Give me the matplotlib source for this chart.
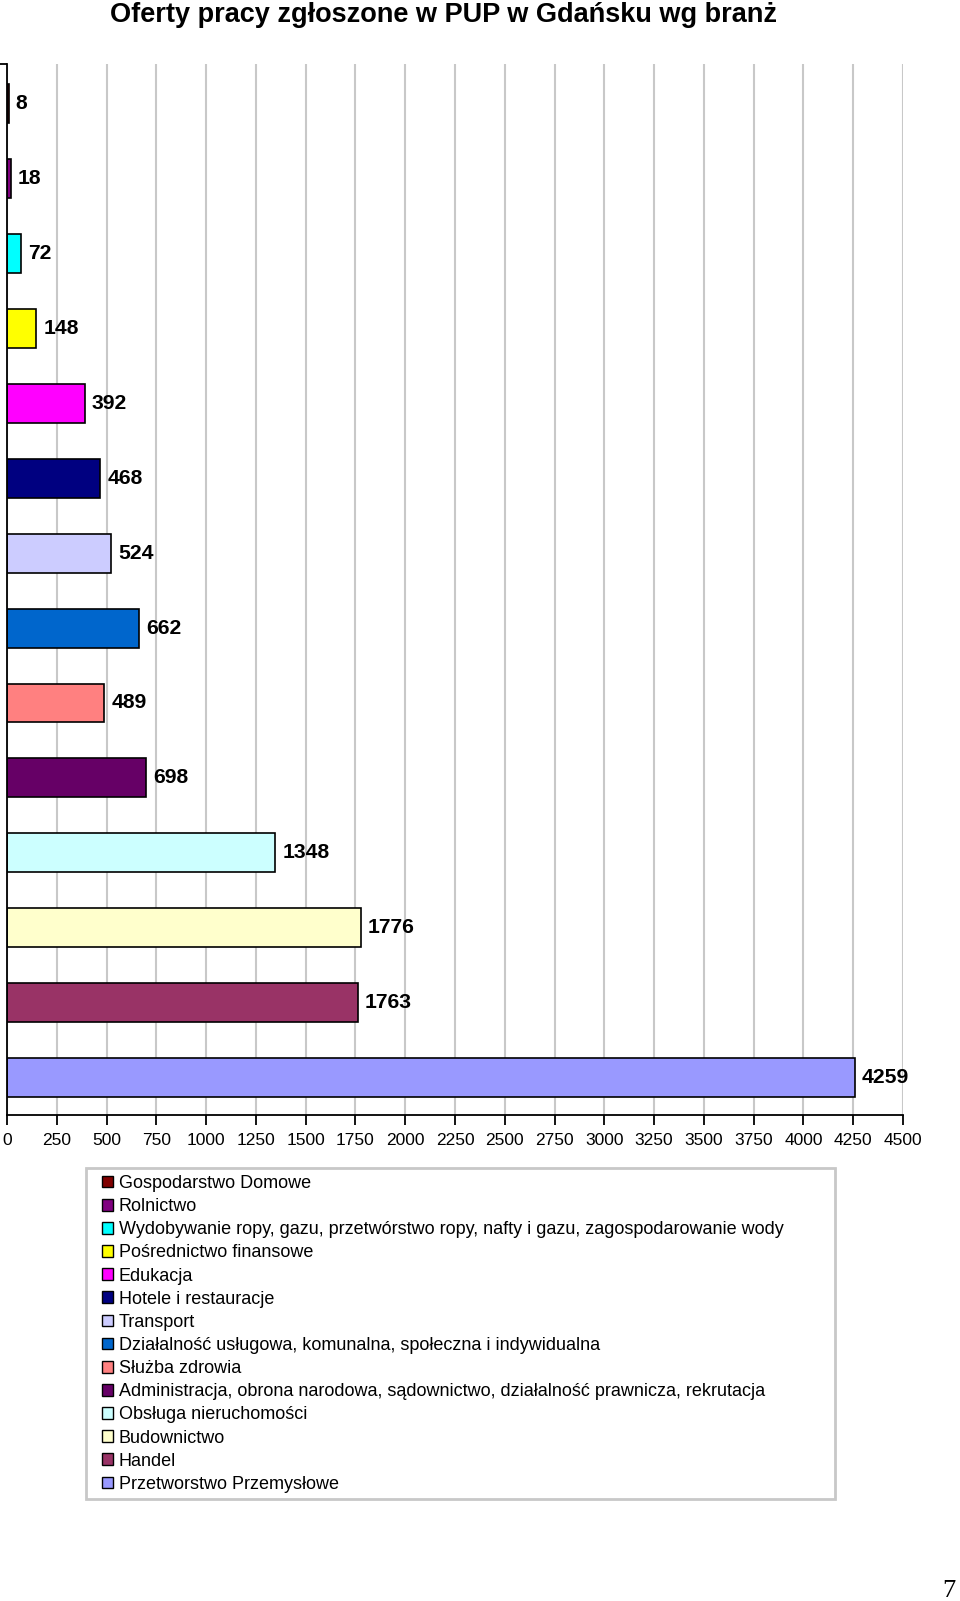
import matplotlib
matplotlib.use("Agg")
import matplotlib.pyplot as plt
from matplotlib.patches import Patch, Rectangle

plt.rcParams['font.family'] = ['Liberation Sans', 'DejaVu Sans']

title = "Oferty pracy zgłoszone w PUP w Gdańsku wg branż"
categories = [
    "Gospodarstwo Domowe",
    "Rolnictwo",
    "Wydobywanie ropy, gazu, przetwórstwo ropy, nafty i gazu, zagospodarowanie wody",
    "Pośrednictwo finansowe",
    "Edukacja",
    "Hotele i restauracje",
    "Transport",
    "Działalność usługowa, komunalna, społeczna i indywidualna",
    "Służba zdrowia",
    "Administracja, obrona narodowa, sądownictwo, działalność prawnicza, rekrutacja",
    "Obsługa nieruchomości",
    "Budownictwo",
    "Handel",
    "Przetworstwo Przemysłowe",
]
values = [8, 18, 72, 148, 392, 468, 524, 662, 489, 698, 1348, 1776, 1763, 4259]
colors = ["#800000", "#800080", "#00FFFF", "#FFFF00", "#FF00FF", "#000080",
          "#CCCCFF", "#0066CC", "#FF8080", "#660066", "#CCFFFF", "#FFFFCC",
          "#993366", "#9999FF"]
xticks = list(range(0, 4501, 250))

W, H = 960, 1601
fig = plt.figure(figsize=(W / 100, H / 100), dpi=100)
ax = fig.add_axes([7/W, 1 - 1115/H, (903 - 7)/W, (1115 - 64)/H])

pos = list(range(len(values)))
ax.barh(pos, values, height=0.52, color=colors, edgecolor="black", linewidth=1.2, zorder=2)
for p, v in zip(pos, values):
    ax.annotate(str(v), (v, p), xytext=(5, 0), textcoords="offset points",
                ha="left", va="center", fontsize=15.2, fontweight="bold", zorder=4)

ylo, yhi = len(values) - 0.5, -0.53
ax.set_xlim(0, 4500)
ax.set_ylim(ylo, yhi)
ax.set_xticks(xticks)
ax.set_xticklabels([str(t) for t in xticks], fontsize=12.5)
ax.tick_params(axis="x", direction="out", length=7, width=1.3, pad=6)
ax.set_yticks([yhi])
ax.set_yticklabels([])
ax.tick_params(axis="y", direction="out", length=6, width=1.3)
ax.grid(axis="x", color="#C8C8C8", linewidth=1.5, zorder=0)
ax.grid(axis="y", visible=False)
for s in ["top", "right"]:
    ax.spines[s].set_visible(False)
for s in ["left", "bottom"]:
    ax.spines[s].set_linewidth(1.3)
    ax.spines[s].set_zorder(3)

fig.text(444/W, 1 - 15/H, title, ha="center", va="center",
         fontsize=19.5, fontweight="bold")

# legend frame
fig.add_artist(Rectangle((86/W, 1 - 1499/H), (835 - 86)/W, (1499 - 1168)/H,
                         transform=fig.transFigure, facecolor="none",
                         edgecolor="#C8C8C8", linewidth=2))
handles = [Patch(facecolor=c, edgecolor="black", linewidth=1.0) for c in colors]
leg = fig.legend(handles, categories, loc="upper left",
                 bbox_to_anchor=(102/W, 1 - 1175/H),
                 fontsize=13, frameon=False,
                 handlelength=0.62, handleheight=0.62, handletextpad=0.32,
                 labelspacing=0.34, borderpad=0, borderaxespad=0)

fig.text(955/W, 1 - 1591/H, "7", ha="right", va="center",
         fontsize=19, family="Liberation Serif")

fig.savefig("out.png", dpi=100, facecolor="white")
